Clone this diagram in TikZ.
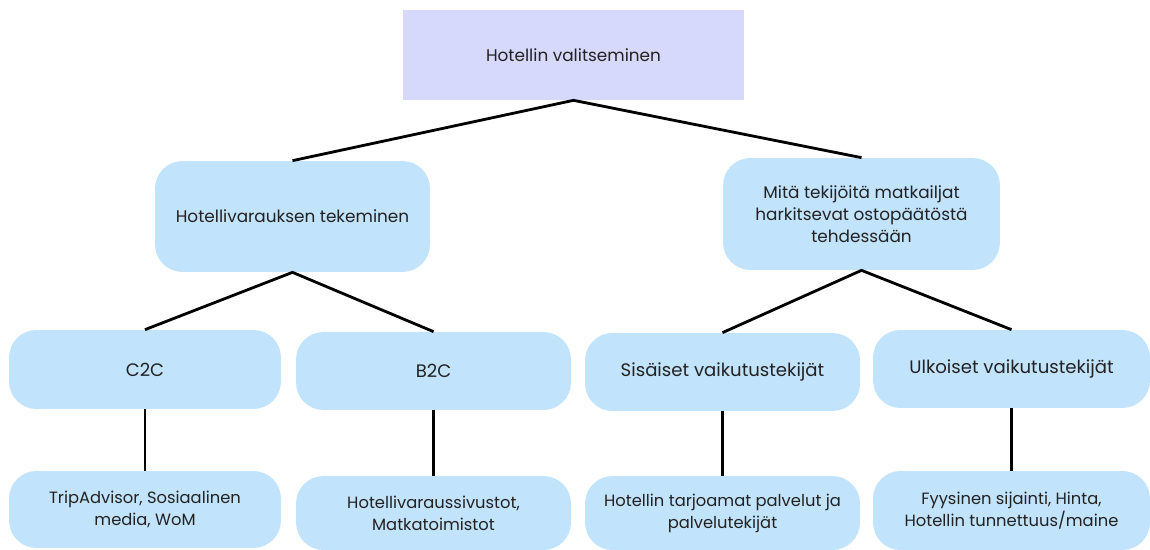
\documentclass[tikz,border=0pt]{standalone}
\usepackage{fontspec}
\setmainfont{Poppins}
\definecolor{topfill}{HTML}{D7D9FC}
\definecolor{boxfill}{HTML}{C2E3FC}
\definecolor{txt}{HTML}{222222}
\tikzset{
  topbox/.style={fill=topfill, inner sep=0pt, text=txt,
    font=\fontsize{9.6}{12}\selectfont},
  roundbox/.style={fill=boxfill, rounded corners=0.55cm, inner sep=0pt,
    align=center, text=txt, font=\fontsize{9.6}{12.5}\selectfont},
  midbox/.style={roundbox, font=\fontsize{10.3}{12.5}\selectfont},
  leafbox/.style={roundbox, font=\fontsize{9.3}{12.5}\selectfont},
  link/.style={line width=1.6pt, black}
}
\begin{document}
\begin{tikzpicture}[x=0.02cm, y=-0.02cm]
\useasboundingbox (0,0) rectangle (1150,550);

\node[topbox, minimum width=6.82cm, minimum height=1.8cm] (valinta) at (573.5,55)
  {Hotellin valitseminen};

\node[roundbox, minimum width=5.5cm, minimum height=2.22cm] (varaus) at (292.5,216.5)
  {Hotellivarauksen tekeminen};
\node[roundbox, minimum width=5.54cm, minimum height=2.24cm] (tekijat) at (861.5,214)
  {Mitä tekijöitä matkailjat\\harkitsevat ostopäätöstä\\tehdessään};

\node[midbox, minimum width=5.44cm, minimum height=1.58cm] (ctoc) at (145,369.5) {C2C};
\node[midbox, minimum width=5.5cm, minimum height=1.56cm] (btoc) at (433.5,371) {B2C};
\node[midbox, minimum width=5.5cm, minimum height=1.56cm] (sisaiset) at (722.5,372)
  {Sisäiset vaikutustekijät};
\node[midbox, minimum width=5.54cm, minimum height=1.56cm] (ulkoiset) at (1011.5,369)
  {Ulkoiset vaikutustekijät};

\node[leafbox, minimum width=5.44cm, minimum height=1.54cm] (ctocesim) at (145,509.5)
  {TripAdvisor, Sosiaalinen\\media, WoM};
\node[leafbox, minimum width=5.5cm, minimum height=1.48cm] (btocesim) at (433.5,513)
  {Hotellivaraussivustot,\\Matkatoimistot};
\node[leafbox, minimum width=5.5cm, minimum height=1.48cm] (sisesim) at (722.5,513)
  {Hotellin tarjoamat palvelut ja\\palvelutekijät};
\node[leafbox, minimum width=5.54cm, minimum height=1.58cm] (ulkesim) at (1011.5,510.5)
  {Fyysinen sijainti, Hinta,\\Hotellin tunnettuus/maine};

% yhteydet
\draw[link] (varaus.north) -- (valinta.south) -- (tekijat.north);
\draw[link] (ctoc.north) -- (varaus.south) -- (btoc.north);
\draw[link] (sisaiset.north) -- (tekijat.south) -- (ulkoiset.north);
\draw[link] (ctoc.south) -- (ctocesim.north);
\draw[link] (btoc.south) -- (btocesim.north);
\draw[link] (sisaiset.south) -- (sisesim.north);
\draw[link] (ulkoiset.south) -- (ulkesim.north);
\end{tikzpicture}
\end{document}
